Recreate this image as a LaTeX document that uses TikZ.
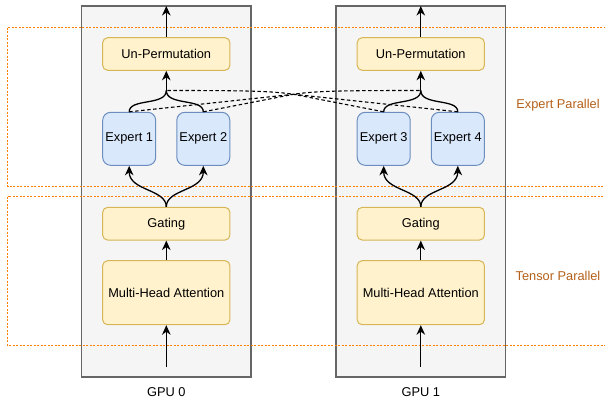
\documentclass[tikz,border=0pt]{standalone}
\usepackage{fontspec}
\setmainfont{Liberation Sans}
\usetikzlibrary{arrows.meta}
\definecolor{gpufill}{HTML}{F5F5F5}
\definecolor{gpudraw}{HTML}{666666}
\definecolor{yfill}{HTML}{FFF2CC}
\definecolor{ydraw}{HTML}{D6B656}
\definecolor{bfill}{HTML}{DAE8FC}
\definecolor{bdraw}{HTML}{6C8EBF}
\definecolor{orangeline}{HTML}{FF8000}
\definecolor{labelbrown}{HTML}{B4601A}
\tikzset{
  gpubox/.style={fill=gpufill,draw=gpudraw,line width=1.3pt},
  groupbox/.style={draw=orangeline,dash pattern=on 2pt off 1.5pt,line width=1pt},
  ybox/.style={draw=ydraw,fill=yfill,line width=1pt,rounded corners=5pt,
    minimum width=127.3pt,inner sep=0pt,font=\fontsize{12.8}{14}\selectfont},
  bbox/.style={draw=bdraw,fill=bfill,line width=1pt,rounded corners=8pt,
    minimum width=53pt,minimum height=53pt,inner sep=0pt,font=\fontsize{12.8}{14}\selectfont},
  arr/.style={line width=1.3pt,-{Stealth[length=9.5pt,width=8.5pt,inset=3pt]}},
  solidline/.style={line width=1.3pt},
  crossline/.style={dash pattern=on 3.5pt off 2.5pt,line width=1.1pt},
  lbl/.style={font=\fontsize{12.8}{14}\selectfont,inner sep=0pt},
  grp/.style={font=\fontsize{12.8}{14}\selectfont,inner sep=0pt,text=labelbrown}
}
\begin{document}
\begin{tikzpicture}[x=1pt,y=-1pt]
\useasboundingbox (0,0) rectangle (605,400);
% GPU boxes
\draw[gpubox] (81.5,6) rectangle (251,377);
\draw[gpubox] (336,6) rectangle (505.7,377);
% group boxes
\draw[groupbox] (7.5,27.5) rectangle (620,186.5);
\draw[groupbox] (7.5,196.5) rectangle (620,345.5);
\node[grp] (ep) at (558,105) {Expert Parallel};
\node[grp] (tp) at (558,276) {Tensor Parallel};
% GPU 0 nodes
\node[ybox,minimum height=32.6pt] (u0) at (166.3,54) {Un-Permutation};
\node[bbox] (e1) at (129.2,138.8) {Expert 1};
\node[bbox] (e2) at (203.3,138.8) {Expert 2};
\node[ybox,minimum height=32.7pt] (g0) at (166.3,223.7) {Gating};
\node[ybox,minimum height=64pt] (a0) at (166.3,292.7) {Multi-Head Attention};
% GPU 1 nodes
\node[ybox,minimum height=32.6pt] (u1) at (420.8,54) {Un-Permutation};
\node[bbox] (e3) at (383.7,138.8) {Expert 3};
\node[bbox] (e4) at (457.8,138.8) {Expert 4};
\node[ybox,minimum height=32.7pt] (g1) at (420.8,223.7) {Gating};
\node[ybox,minimum height=64pt] (a1) at (420.8,292.7) {Multi-Head Attention};
% labels
\node[lbl] (gl0) at (166.3,392) {GPU 0};
\node[lbl] (gl1) at (420.8,392) {GPU 1};
% helper coordinates
\coordinate (t0) at (166.3,6);
\coordinate (t1) at (420.8,6);
\coordinate (b0) at (166.3,366.7);
\coordinate (b1) at (420.8,366.7);
\coordinate (m0) at (166.3,90.5);
\coordinate (m1) at (420.8,90.5);
\coordinate (c) at (293.5,94.3);
% dashed cross connections
\draw[crossline] (e1.north) -- (c) .. controls (315,91) and (340,90.5) .. (m1);
\draw[crossline] (e2.north) -- (c);
\draw[crossline] (e4.north) -- (c) .. controls (272,91) and (247,90.5) .. (m0);
\draw[crossline] (e3.north) -- (c);
% arrows GPU 0
\draw[arr] (b0) -- (a0.south);
\draw[arr] (a0.north) -- (g0.south);
\draw[arr] (g0.north) .. controls (166.3,189) and (129.2,191) .. (e1.south);
\draw[arr] (g0.north) .. controls (166.3,189) and (203.3,191) .. (e2.south);
\draw[solidline] (e1.north) .. controls (129.2,98) and (166.3,106) .. (m0);
\draw[solidline] (e2.north) .. controls (203.3,98) and (166.3,106) .. (m0);
\draw[arr] (m0) -- (u0.south);
\draw[arr] (u0.north) -- (t0);
% arrows GPU 1
\draw[arr] (b1) -- (a1.south);
\draw[arr] (a1.north) -- (g1.south);
\draw[arr] (g1.north) .. controls (420.8,189) and (383.7,191) .. (e3.south);
\draw[arr] (g1.north) .. controls (420.8,189) and (457.8,191) .. (e4.south);
\draw[solidline] (e3.north) .. controls (383.7,98) and (420.8,106) .. (m1);
\draw[solidline] (e4.north) .. controls (457.8,98) and (420.8,106) .. (m1);
\draw[arr] (m1) -- (u1.south);
\draw[arr] (u1.north) -- (t1);
\end{tikzpicture}
\end{document}
